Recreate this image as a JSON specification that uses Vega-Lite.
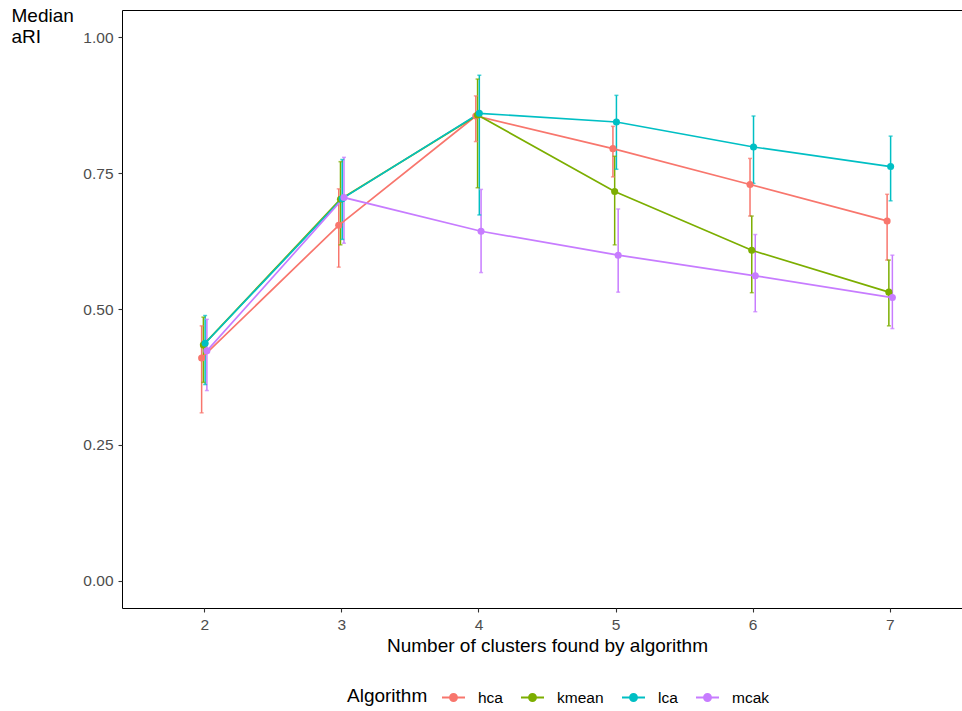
{
  "$schema": "https://vega.github.io/schema/vega-lite/v6.json",
  "width": 850,
  "height": 598,
  "autosize": {"type": "none"},
  "padding": {"left": 122, "top": 10, "right": 0, "bottom": 103},
  "background": "white",
  "config": {
    "font": "Liberation Sans",
    "view": {"stroke": "black", "strokeWidth": 1},
    "axis": {"grid": false, "domain": false, "tickColor": "#333333", "tickSize": 4, "tickWidth": 1.1, "labelColor": "#4d4d4d", "labelFontSize": 15.5, "titleFontSize": 19, "titleFontWeight": "normal", "titleColor": "black", "labelFont": "Liberation Sans", "titleFont": "Liberation Sans"}
  },
  "data": {"values": [
    {"Algorithm": "hca", "k": 2, "median": 0.410, "lo": 0.309, "hi": 0.469},
    {"Algorithm": "kmean", "k": 2, "median": 0.434, "lo": 0.365, "hi": 0.485},
    {"Algorithm": "lca", "k": 2, "median": 0.437, "lo": 0.361, "hi": 0.488},
    {"Algorithm": "mcak", "k": 2, "median": 0.423, "lo": 0.350, "hi": 0.481},
    {"Algorithm": "hca", "k": 3, "median": 0.654, "lo": 0.577, "hi": 0.721},
    {"Algorithm": "kmean", "k": 3, "median": 0.702, "lo": 0.618, "hi": 0.771},
    {"Algorithm": "lca", "k": 3, "median": 0.703, "lo": 0.628, "hi": 0.775},
    {"Algorithm": "mcak", "k": 3, "median": 0.705, "lo": 0.621, "hi": 0.779},
    {"Algorithm": "hca", "k": 4, "median": 0.855, "lo": 0.808, "hi": 0.892},
    {"Algorithm": "kmean", "k": 4, "median": 0.857, "lo": 0.723, "hi": 0.923},
    {"Algorithm": "lca", "k": 4, "median": 0.860, "lo": 0.673, "hi": 0.930},
    {"Algorithm": "mcak", "k": 4, "median": 0.643, "lo": 0.567, "hi": 0.720},
    {"Algorithm": "hca", "k": 5, "median": 0.795, "lo": 0.743, "hi": 0.836},
    {"Algorithm": "kmean", "k": 5, "median": 0.716, "lo": 0.618, "hi": 0.781},
    {"Algorithm": "lca", "k": 5, "median": 0.844, "lo": 0.757, "hi": 0.893},
    {"Algorithm": "mcak", "k": 5, "median": 0.599, "lo": 0.531, "hi": 0.684},
    {"Algorithm": "hca", "k": 6, "median": 0.729, "lo": 0.671, "hi": 0.777},
    {"Algorithm": "kmean", "k": 6, "median": 0.608, "lo": 0.530, "hi": 0.671},
    {"Algorithm": "lca", "k": 6, "median": 0.798, "lo": 0.731, "hi": 0.855},
    {"Algorithm": "mcak", "k": 6, "median": 0.561, "lo": 0.495, "hi": 0.637},
    {"Algorithm": "hca", "k": 7, "median": 0.662, "lo": 0.590, "hi": 0.711},
    {"Algorithm": "kmean", "k": 7, "median": 0.531, "lo": 0.469, "hi": 0.590},
    {"Algorithm": "lca", "k": 7, "median": 0.762, "lo": 0.699, "hi": 0.818},
    {"Algorithm": "mcak", "k": 7, "median": 0.521, "lo": 0.464, "hi": 0.599}
  ]},
  "encoding": {
    "x": {"field": "k", "type": "ordinal", "scale": {"type": "point", "padding": 0.6},
          "axis": {"title": "Number of clusters found by algorithm", "labelAngle": 0, "labelPadding": 5, "titlePadding": 4}},
    "xOffset": {"field": "Algorithm", "type": "nominal", "scale": {"type": "point", "range": [-3.5, 3.5]}},
    "color": {"field": "Algorithm", "type": "nominal",
              "scale": {"domain": ["hca", "kmean", "lca", "mcak"], "range": ["#F8766D", "#7CAE00", "#00BFC4", "#C77CFF"]},
              "legend": {"orient": "none", "legendX": 225, "legendY": 675, "direction": "horizontal", "titleOrient": "left",
                         "titleFontSize": 19, "titleFontWeight": "normal", "titleColor": "black", "titlePadding": 13,
                         "labelFontSize": 15.5, "labelColor": "black", "labelOffset": 12, "columnPadding": 14,
                         "symbolType": "M-1,0H1M-0.3,0A0.3,0.3 0 1,1 0.3,0A0.3,0.3 0 1,1 -0.3,0Z",
                         "symbolSize": 529, "symbolStrokeWidth": 2,
                         "encode": {"symbols": {"update": {"fill": {"scale": "color", "field": "value"}, "stroke": {"scale": "color", "field": "value"}, "fillOpacity": {"value": 1}, "strokeOpacity": {"value": 1}}}}}}
  },
  "layer": [
    {"mark": {"type": "rule", "strokeWidth": 1.5},
     "encoding": {"y": {"field": "lo", "type": "quantitative"}, "y2": {"field": "hi"}}},
    {"mark": {"type": "tick", "size": 4, "thickness": 1.5, "orient": "horizontal"},
     "encoding": {"y": {"field": "lo", "type": "quantitative"}}},
    {"mark": {"type": "tick", "size": 4, "thickness": 1.5, "orient": "horizontal"},
     "encoding": {"y": {"field": "hi", "type": "quantitative"}}},
    {"mark": {"type": "line", "strokeWidth": 1.7},
     "encoding": {"y": {"field": "median", "type": "quantitative"}}},
    {"mark": {"type": "point", "filled": true, "size": 50, "opacity": 1},
     "encoding": {"y": {"field": "median", "type": "quantitative",
                        "scale": {"domain": [-0.05, 1.05], "nice": false, "zero": false},
                        "axis": {"title": ["Median", "aRI"], "titleAngle": 0, "titleAlign": "left", "titleBaseline": "top",
                                 "titleX": -111, "titleY": -4, "titleLineHeight": 21, "values": [0, 0.25, 0.5, 0.75, 1], "format": ".2f", "labelPadding": 5}}}}
  ],
  "resolve": {"scale": {"y": "shared"}}
}
